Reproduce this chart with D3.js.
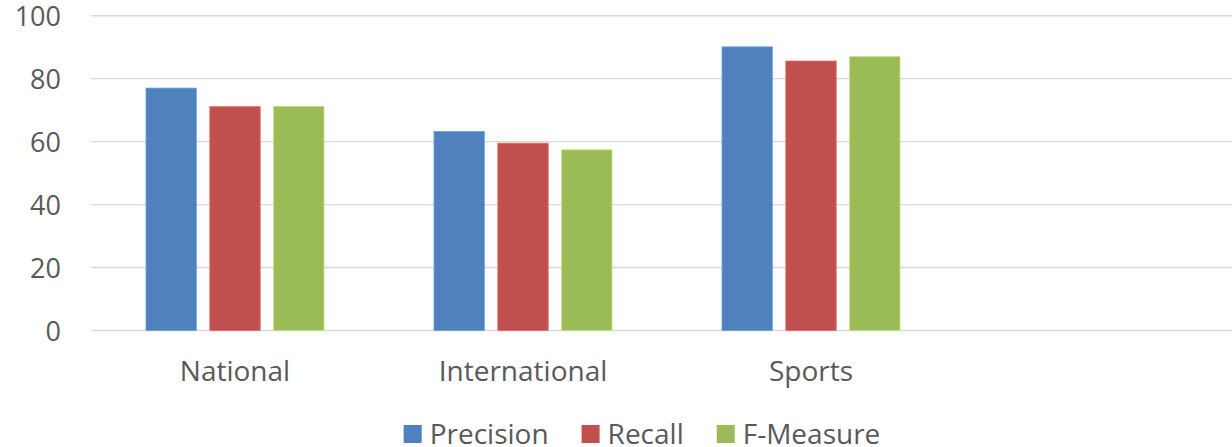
<!DOCTYPE html>
<html>
<head>
<meta charset="utf-8">
<script src="https://cdn.jsdelivr.net/npm/d3@7/dist/d3.min.js"></script>
<style>
  html, body { margin: 0; padding: 0; background: #fff; }
  svg { display: block; }
  text { font-family: "Open Sans", "Noto Sans", sans-serif; fill: #595959; }
</style>
</head>
<body>
<svg id="chart" width="1232" height="447"></svg>
<script>
const categories = ["National", "International", "Sports", ""];
const seriesNames = ["Precision", "Recall", "F-Measure"];
const precision = [77.0, 63.2, 90.1];
const recall = [71.1, 59.5, 85.6];
const fMeasure = [71.2, 57.4, 87.0];
const seriesValues = [precision, recall, fMeasure];
const seriesColors = ["#4F81BD", "#C0504D", "#9BBB59"];
const yTicks = [0, 20, 40, 60, 80, 100];

const svg = d3.select("#chart");
const plotLeft = 91, step = 288;
const x0 = d3.scaleBand().domain(categories).range([plotLeft, plotLeft + step * categories.length]);
const x1 = d3.scaleBand().domain(seriesNames).range([55, 233]).paddingInner(0.211).paddingOuter(0);
const y = d3.scaleLinear().domain([0, 100]).range([330.5, 15.7]);
const color = d3.scaleOrdinal().domain(seriesNames).range(seriesColors);

// gridlines
svg.append("g").selectAll("line").data(yTicks).join("line")
  .attr("x1", plotLeft).attr("x2", 1232)
  .attr("y1", d => y(d)).attr("y2", d => y(d))
  .attr("stroke", "#d9d9d9").attr("stroke-width", 1.4);

// y axis labels
const yAxis = svg.append("g").attr("transform", "translate(61,0)")
  .call(d3.axisLeft(y).tickValues(yTicks).tickSize(0).tickPadding(0));
yAxis.select(".domain").remove();
yAxis.selectAll("text").attr("font-size", 27).attr("font-family", "Open Sans").attr("fill", "#595959").attr("dy", "0.36em");

// bars
const rows = categories.slice(0, 3).map((c, i) => ({ cat: c, vals: seriesNames.map((s, j) => ({ s, v: seriesValues[j][i] })) }));
const groups = svg.append("g").selectAll("g").data(rows).join("g")
  .attr("transform", d => `translate(${x0(d.cat)},0)`);
groups.selectAll("rect").data(d => d.vals).join("rect")
  .attr("x", d => x1(d.s))
  .attr("width", x1.bandwidth())
  .attr("y", d => y(d.v))
  .attr("height", d => y(0) - y(d.v))
  .attr("fill", d => color(d.s))
  .attr("stroke", d => d3.color(color(d.s)).brighter(0.6))
  .attr("stroke-width", 0.8);

// x axis labels
const xAxis = svg.append("g").attr("transform", "translate(0,340)")
  .call(d3.axisBottom(x0).tickSize(0).tickPadding(0));
xAxis.select(".domain").remove();
xAxis.selectAll("text").attr("font-size", 28).attr("font-family", "Open Sans").attr("fill", "#595959")
  .attr("dy", 0).attr("y", 41);

// legend
const legend = svg.append("g");
const items = legend.selectAll("g").data(seriesNames).join("g");
items.append("rect").attr("width", 18).attr("height", 18).attr("y", 425).attr("fill", d => color(d));
items.append("text").attr("x", 26).attr("y", 444).attr("font-size", 28).text(d => d);
let xpos = 0;
const positions = [];
items.each(function () {
  const w = d3.select(this).select("text").node().getComputedTextLength();
  positions.push(xpos);
  xpos += 26 + w + 33;
});
const total = xpos - 33;
const startX = 642 - total / 2;
items.attr("transform", (d, i) => `translate(${startX + positions[i]},0)`);
</script>
</body>
</html>
